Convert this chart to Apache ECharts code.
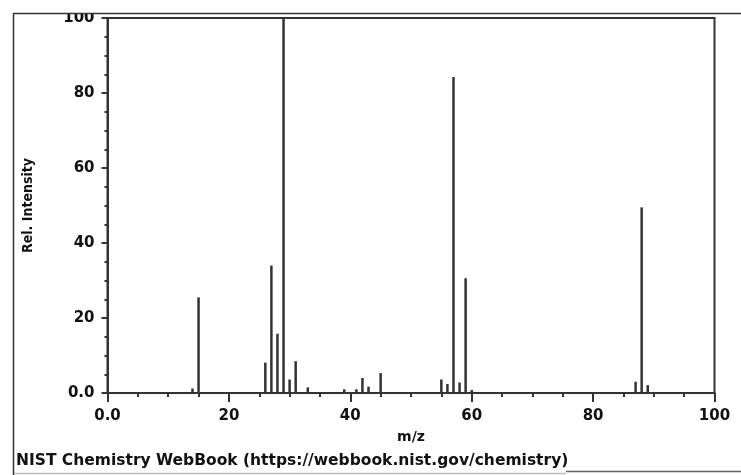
<!DOCTYPE html>
<html>
<head>
<meta charset="utf-8">
<style>
  html, body { margin: 0; padding: 0; background: #fff; }
  #chart { width: 741px; height: 475px; }
</style>
<script src="https://cdn.jsdelivr.net/npm/echarts@6/dist/echarts.min.js"></script>
</head>
<body>
<div id="chart"></div>
<script>
// mass spectrum peaks (m/z, relative intensity)
const mz = [14, 15, 26, 27, 28, 29, 30, 31, 33, 39, 41, 42, 43, 45, 55, 56, 57, 58, 59, 60, 87, 88, 89]
const intensity = [1.2, 25.5, 8.1, 34, 15.8, 100, 3.6, 8.5, 1.5, 1, 1, 4, 1.7, 5.3, 3.6, 2.4, 84.3, 2.8, 30.6, 0.8, 3, 49.5, 2.1]
const xTicks = [0, 20, 40, 60, 80, 100]
const yTicks = [0, 20, 40, 60, 80, 100]

const font = 'DejaVu Sans'
const ink = '#333'

const chart = echarts.init(document.getElementById('chart'))

const fmt = v => (v === 0 ? '0.0' : String(v))

chart.setOption({
  animation: false,
  grid: {
    left: 107.5,
    right: 26.5,
    top: 18,
    bottom: 82,
    show: true,
    borderColor: ink,
    borderWidth: 2,
    backgroundColor: 'transparent'
  },
  xAxis: {
    type: 'value',
    min: xTicks[0],
    max: xTicks[xTicks.length - 1],
    interval: 20,
    name: 'm/z',
    nameLocation: 'middle',
    nameGap: 37,
    nameTextStyle: { fontFamily: font, fontWeight: 'bold', fontSize: 14, color: '#111' },
    axisLine: { show: true, lineStyle: { color: ink, width: 2 } },
    axisTick: { show: true, length: 9, lineStyle: { color: ink, width: 2 } },
    minorTick: { show: true, splitNumber: 4, length: 4, lineStyle: { color: ink, width: 2 } },
    splitLine: { show: false },
    axisLabel: { formatter: fmt, margin: 16, fontFamily: font, fontWeight: 'bold', fontSize: 15, color: '#111' }
  },
  yAxis: {
    type: 'value',
    min: yTicks[0],
    max: yTicks[yTicks.length - 1],
    interval: 20,
    name: 'Rel. Intensity',
    nameLocation: 'middle',
    nameGap: 72,
    nameTextStyle: { fontFamily: 'DejaVu Sans Condensed', fontWeight: 'bold', fontSize: 14, color: '#111' },
    axisLine: { show: true, lineStyle: { color: ink, width: 2 } },
    axisTick: { show: true, length: 6, lineStyle: { color: ink, width: 2 } },
    minorTick: { show: true, splitNumber: 4, length: 3, lineStyle: { color: ink, width: 2 } },
    splitLine: { show: false },
    axisLabel: { formatter: fmt, margin: 13, fontFamily: font, fontWeight: 'bold', fontSize: 15, color: '#111' }
  },
  series: [
    {
      type: 'bar',
      barWidth: 2.5,
      itemStyle: { color: ink },
      data: mz.map((m, i) => [m, intensity[i]])
    }
  ],
  graphic: [
    // clip strip above the outer frame
    { type: 'rect', z: 100, shape: { x: 0, y: 0, width: 741, height: 13 }, style: { fill: '#fff' } },
    { type: 'line', z: 101, shape: { x1: 13, y1: 13.5, x2: 741, y2: 13.5 }, style: { stroke: ink, lineWidth: 1.5 } },
    { type: 'line', z: 101, shape: { x1: 13.5, y1: 13, x2: 13.5, y2: 475 }, style: { stroke: ink, lineWidth: 1.5 } },
    { type: 'line', z: 101, shape: { x1: 14, y1: 473.5, x2: 566, y2: 473.5 }, style: { stroke: '#bbb', lineWidth: 1.5 } },
    { type: 'line', z: 101, shape: { x1: 566, y1: 471.5, x2: 741, y2: 471.5 }, style: { stroke: '#666', lineWidth: 1.5 } },
    {
      type: 'text',
      z: 101,
      left: 16,
      top: 453,
      style: {
        text: 'NIST Chemistry WebBook (https://webbook.nist.gov/chemistry)',
        font: 'bold 15.5px "DejaVu Sans"',
        fill: '#111'
      }
    }
  ]
})
</script>
</body>
</html>
